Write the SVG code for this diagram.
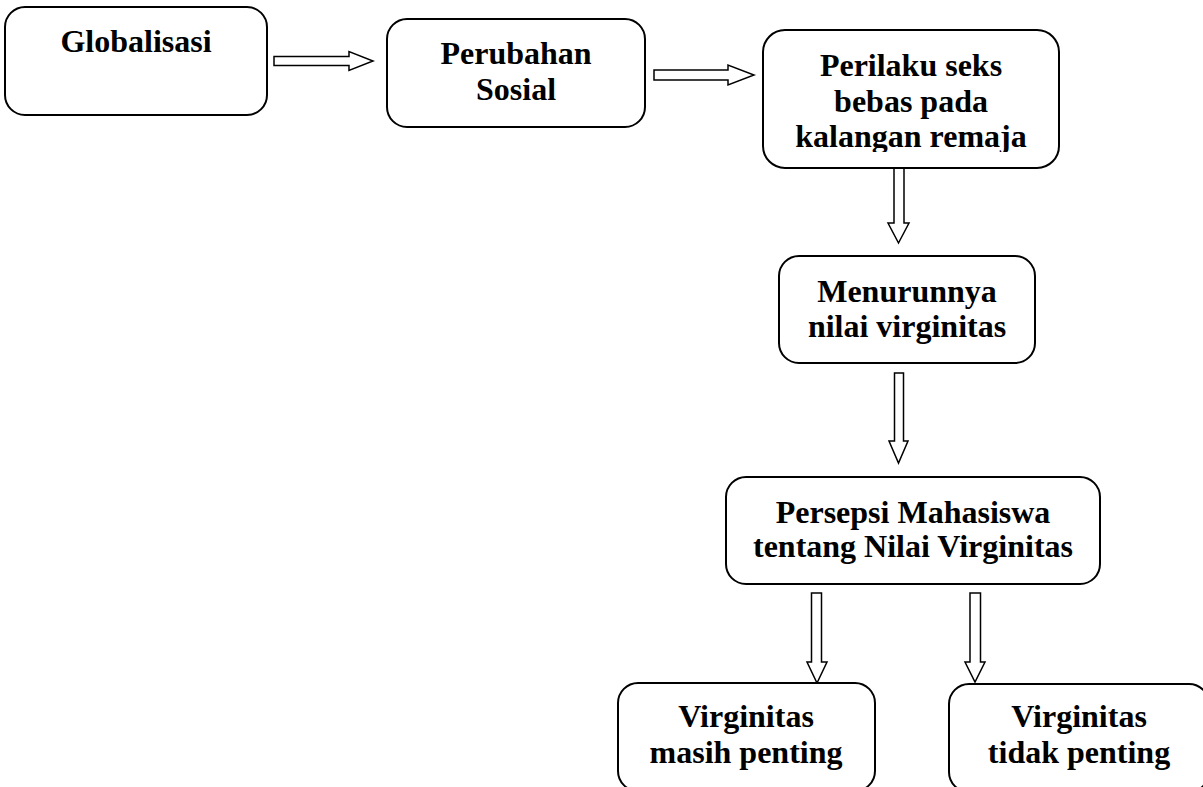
<svg xmlns="http://www.w3.org/2000/svg" width="1203" height="787" viewBox="0 0 1203 787">
<style>
.box{fill:#fff;stroke:#000;stroke-width:2}
.arr{fill:#fff;stroke:#000;stroke-width:1.5;stroke-linejoin:miter}
.t{font-family:"Liberation Serif","Times New Roman",serif;font-weight:bold;font-size:32px;fill:#000;text-anchor:middle}
</style>
<defs>
<clipPath id="clipPerilaku"><rect x="763" y="30" width="296" height="122"/></clipPath>
</defs>
<rect width="1203" height="787" fill="#fff"/>
<g id="connectors">
<polygon class="arr" points="274,56.5 349,56.5 349,51.5 373,61 349,70.5 349,65.5 274,65.5"/>
<polygon class="arr" points="654,70 728,70 728,65 754,75 728,85 728,80 654,80"/>
<polygon class="arr" points="894,168 904,168 904,223 909,223 898.5,243 888,223 894,223"/>
<polygon class="arr" points="894.5,373 903.5,373 903.5,441 908,441 898.5,463 889,441 894.5,441"/>
<polygon class="arr" points="811.5,593 821.5,593 821.5,662 827,662 817,683 807,662 811.5,662"/>
<polygon class="arr" points="970,593 980.5,593 980.5,662 985,662 975,682 965,662 970,662"/>
</g>
<g id="node-globalisasi">
<rect class="box" x="5" y="7" width="262" height="108" rx="20"/>
<text class="t" x="136" y="52">Globalisasi</text>
</g>
<g id="node-perubahan">
<rect class="box" x="387" y="19" width="258" height="108" rx="20"/>
<text class="t" x="516" y="64">Perubahan</text>
<text class="t" x="516" y="100">Sosial</text>
</g>
<g id="node-perilaku">
<rect class="box" x="763" y="30" width="296" height="138" rx="22"/>
<g clip-path="url(#clipPerilaku)">
<text class="t" x="911" y="76">Perilaku seks</text>
<text class="t" x="911" y="112">bebas pada</text>
<text class="t" x="911" y="147">kalangan remaja</text>
</g>
</g>
<g id="node-menurunnya">
<rect class="box" x="779" y="256" width="256" height="107" rx="20"/>
<text class="t" x="907" y="302">Menurunnya</text>
<text class="t" x="907" y="337">nilai virginitas</text>
</g>
<g id="node-persepsi">
<rect class="box" x="726" y="477" width="374" height="107" rx="20"/>
<text class="t" x="913" y="523">Persepsi Mahasiswa</text>
<text class="t" x="913" y="557">tentang Nilai Virginitas</text>
</g>
<g id="node-penting">
<rect class="box" x="618" y="683" width="257" height="108" rx="20"/>
<text class="t" x="746" y="727">Virginitas</text>
<text class="t" x="746" y="763">masih penting</text>
</g>
<g id="node-tidak-penting">
<rect class="box" x="949" y="684" width="260" height="108" rx="20"/>
<text class="t" x="1079" y="727">Virginitas</text>
<text class="t" x="1079" y="763">tidak penting</text>
</g>
</svg>
